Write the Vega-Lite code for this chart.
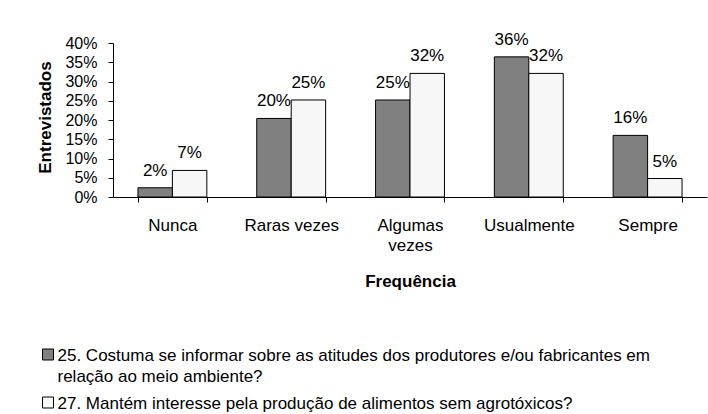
{
  "$schema": "https://vega.github.io/schema/vega-lite/v6.json",
  "width": 594,
  "height": 154,
  "autosize": {"type": "none"},
  "padding": {"left": 113, "top": 43, "right": 1, "bottom": 217},
  "background": "white",
  "config": {"view": {"stroke": null}, "font": "Liberation Sans"},
  "data": {
    "values": [
      {"freq": "Nunca", "serie": "25. Costuma se informar sobre as atitudes dos produtores e/ou fabricantes em relação ao meio ambiente?", "valor": 0.024},
      {"freq": "Raras vezes", "serie": "25. Costuma se informar sobre as atitudes dos produtores e/ou fabricantes em relação ao meio ambiente?", "valor": 0.204},
      {"freq": "Algumas vezes", "serie": "25. Costuma se informar sobre as atitudes dos produtores e/ou fabricantes em relação ao meio ambiente?", "valor": 0.252},
      {"freq": "Usualmente", "serie": "25. Costuma se informar sobre as atitudes dos produtores e/ou fabricantes em relação ao meio ambiente?", "valor": 0.364},
      {"freq": "Sempre", "serie": "25. Costuma se informar sobre as atitudes dos produtores e/ou fabricantes em relação ao meio ambiente?", "valor": 0.16},
      {"freq": "Nunca", "serie": "27. Mantém interesse pela produção de alimentos sem agrotóxicos?", "valor": 0.069},
      {"freq": "Raras vezes", "serie": "27. Mantém interesse pela produção de alimentos sem agrotóxicos?", "valor": 0.252},
      {"freq": "Algumas vezes", "serie": "27. Mantém interesse pela produção de alimentos sem agrotóxicos?", "valor": 0.321},
      {"freq": "Usualmente", "serie": "27. Mantém interesse pela produção de alimentos sem agrotóxicos?", "valor": 0.321},
      {"freq": "Sempre", "serie": "27. Mantém interesse pela produção de alimentos sem agrotóxicos?", "valor": 0.048}
    ]
  },
  "encoding": {
    "x": {
      "field": "freq",
      "type": "nominal",
      "sort": ["Nunca", "Raras vezes", "Algumas vezes", "Usualmente", "Sempre"],
      "scale": {"paddingInner": 0.42, "paddingOuter": 0.21},
      "axis": {
        "title": "Frequência",
        "titleFontWeight": "bold",
        "titleFontSize": 17,
        "titleColor": "black",
        "titleY": 89,
        "titleBaseline": "alphabetic",
        "labelAngle": 0,
        "labelFontSize": 17,
        "labelColor": "black",
        "labelPadding": 15,
        "labelLineHeight": 20,
        "labelLimit": 200,
        "labelExpr": "datum.label == 'Algumas vezes' ? ['Algumas', 'vezes'] : datum.label",
        "tickBand": "extent",
        "tickSize": 5,
        "tickColor": "black",
        "domainColor": "black"
      }
    },
    "xOffset": {
      "field": "serie",
      "type": "nominal",
      "sort": [
        "25. Costuma se informar sobre as atitudes dos produtores e/ou fabricantes em relação ao meio ambiente?",
        "27. Mantém interesse pela produção de alimentos sem agrotóxicos?"
      ],
      "scale": {"paddingInner": 0, "paddingOuter": 0}
    },
    "y": {
      "field": "valor",
      "type": "quantitative",
      "scale": {"domain": [0, 0.4]},
      "axis": {
        "title": "Entrevistados",
        "titleFontWeight": "bold",
        "titleFontSize": 17,
        "titleColor": "black",
        "titleX": -63,
        "titleY": 74,
        "titleAngle": 270,
        "titleBaseline": "alphabetic",
        "values": [0, 0.05, 0.1, 0.15, 0.2, 0.25, 0.3, 0.35, 0.4],
        "format": ".0%",
        "labelFontSize": 16,
        "labelColor": "black",
        "labelPadding": 11,
        "tickSize": 5,
        "tickColor": "black",
        "domainColor": "black",
        "grid": false
      }
    }
  },
  "layer": [
    {
      "mark": {"type": "bar", "stroke": "black", "strokeWidth": 1},
      "encoding": {
        "fill": {
          "field": "serie",
          "type": "nominal",
          "sort": [
            "25. Costuma se informar sobre as atitudes dos produtores e/ou fabricantes em relação ao meio ambiente?",
            "27. Mantém interesse pela produção de alimentos sem agrotóxicos?"
          ],
          "scale": {"range": ["#808080", "#f7f7f7"]},
          "legend": {
            "orient": "none",
            "legendX": -73.5,
            "legendY": 303,
            "direction": "vertical",
            "title": null,
            "padding": 0,
            "symbolType": "square",
            "symbolSize": 121,
            "symbolStrokeColor": "black",
            "symbolStrokeWidth": 1,
            "symbolOpacity": 1,
            "labelFontSize": 17,
            "labelColor": "black",
            "labelLimit": 700,
            "labelOffset": 1,
            "labelBaseline": "alphabetic",
            "rowPadding": 9,
            "labelExpr": "datum.label == '25. Costuma se informar sobre as atitudes dos produtores e/ou fabricantes em relação ao meio ambiente?' ? ['25. Costuma se informar sobre as atitudes dos produtores e/ou fabricantes em', 'relação ao meio ambiente?'] : datum.label",
            "encode": {"labels": {"update": {"lineHeight": {"value": 21}, "dy": {"value": 6}}}}
          }
        }
      }
    },
    {
      "mark": {"type": "text", "baseline": "alphabetic", "dy": -12, "fontSize": 17, "color": "black"},
      "encoding": {"text": {"field": "valor", "type": "quantitative", "format": ".0%"}}
    }
  ]
}
